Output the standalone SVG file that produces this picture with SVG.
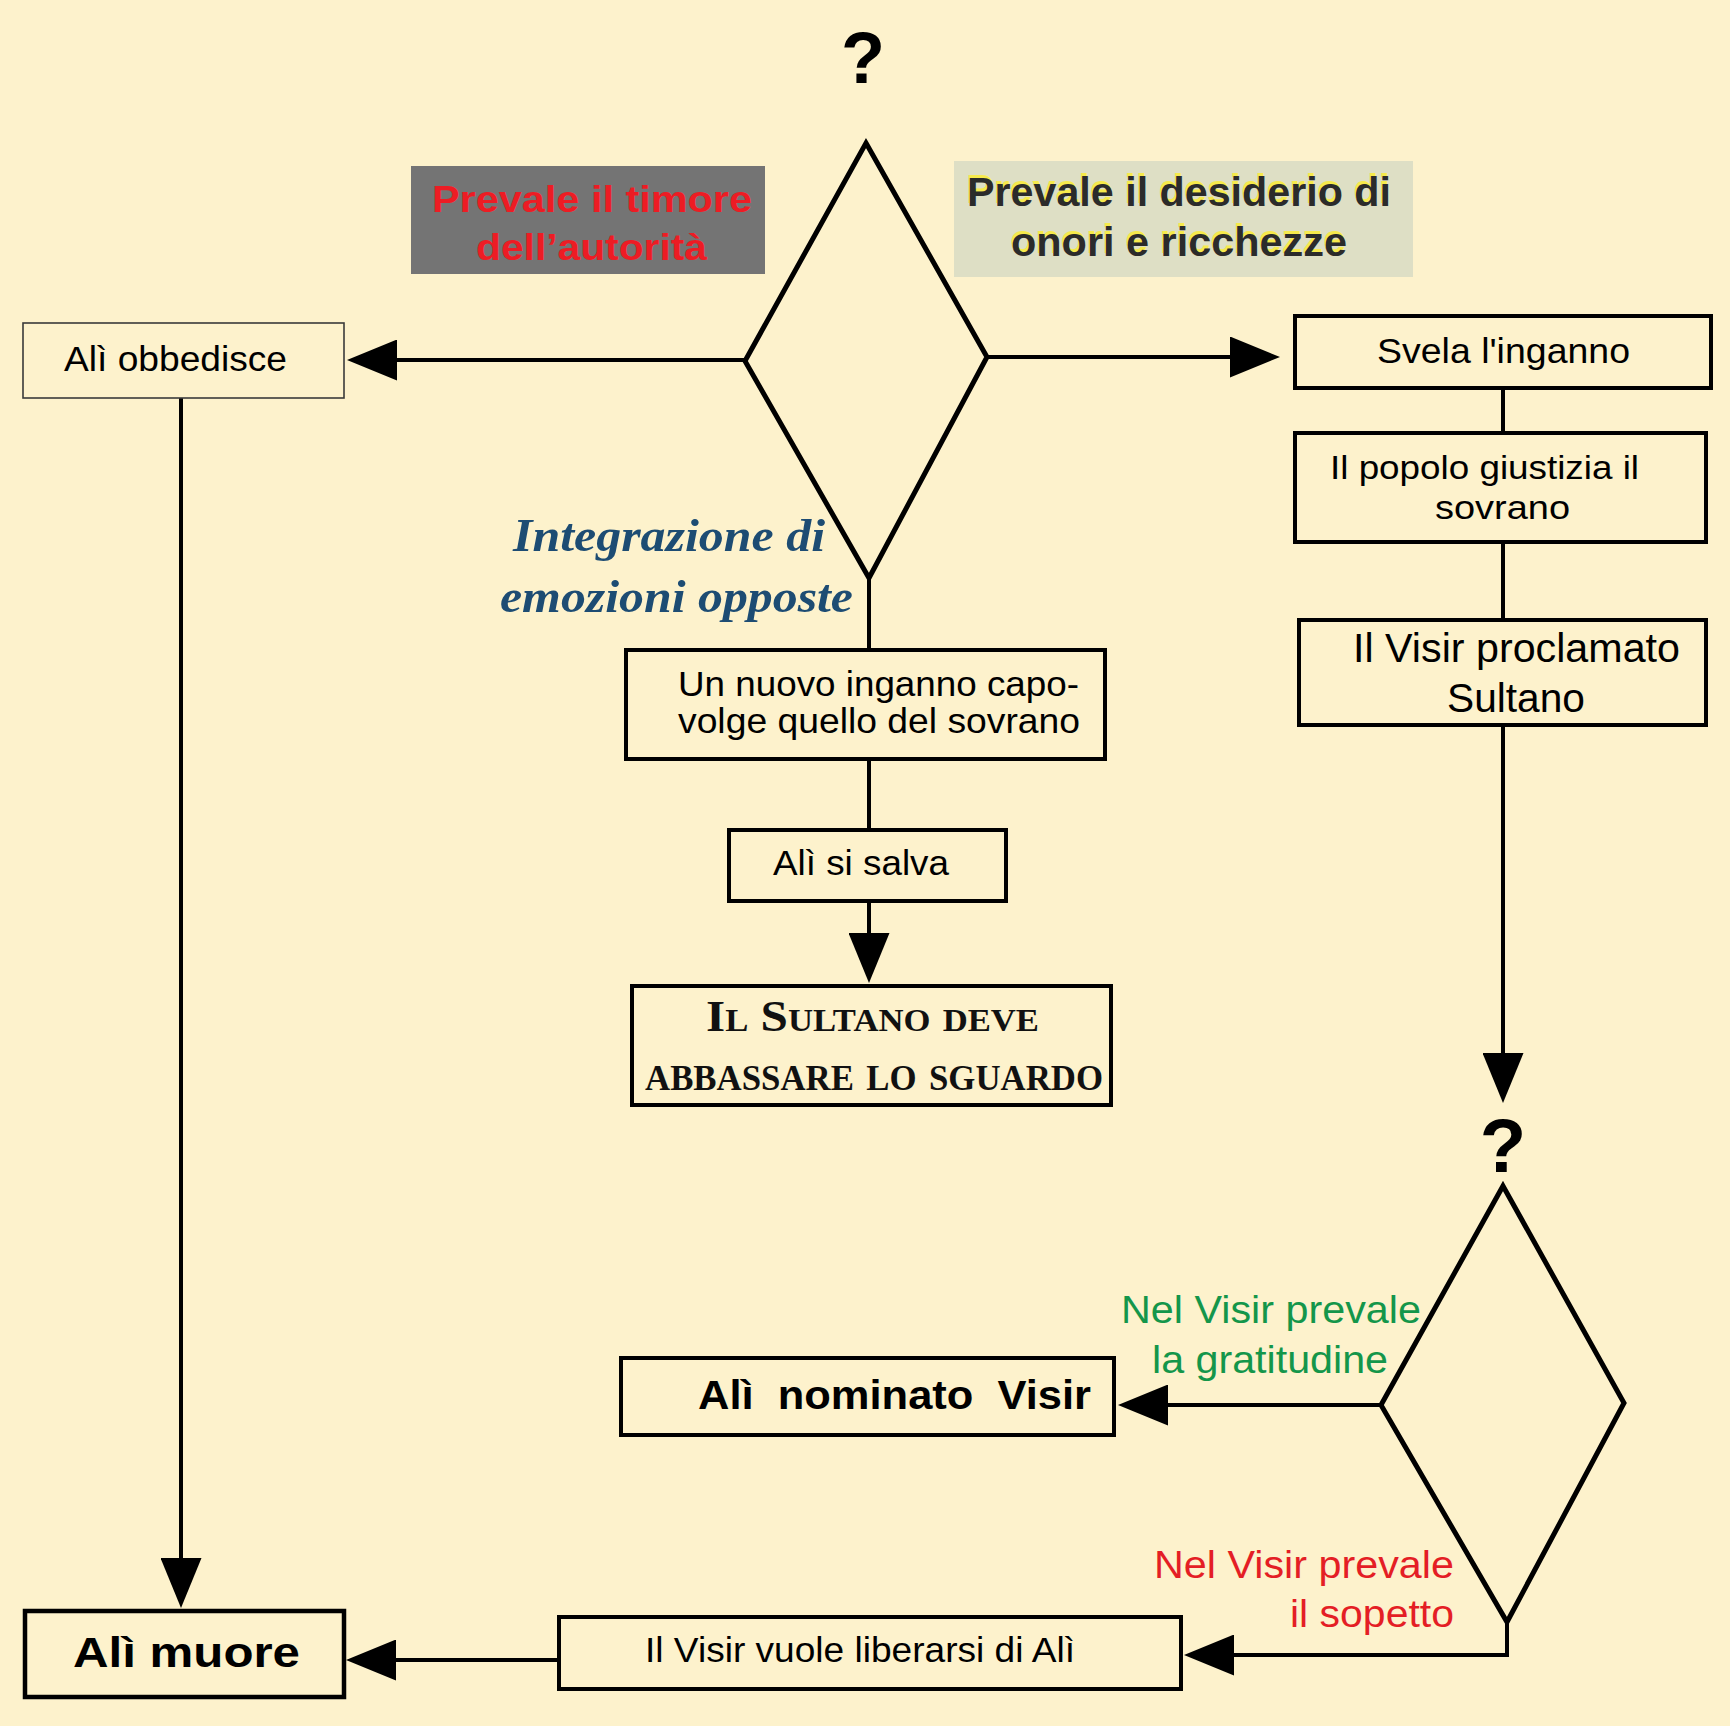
<svg xmlns="http://www.w3.org/2000/svg" width="1730" height="1726" viewBox="0 0 1730 1726">
<defs>
<marker id="ah" markerUnits="userSpaceOnUse" markerWidth="50" markerHeight="41" viewBox="0 0 50 41" refX="30" refY="20.5" orient="auto">
<path d="M0,0 L50,20.5 L0,41 Z" fill="#000"/>
</marker>
<style>
.box{fill:none;stroke:#000;stroke-width:4}
.thin{fill:none;stroke:#3a3a3a;stroke-width:1.6}
.dia{fill:none;stroke:#000;stroke-width:5;stroke-linejoin:miter}
.con{fill:none;stroke:#000;stroke-width:4}
.arr{marker-end:url(#ah)}
.sans{font-family:"Liberation Sans",Arial,Helvetica,sans-serif;fill:#000}
.b{font-weight:bold}
.serif{font-family:"Liberation Serif","Times New Roman",serif}
</style>
</defs>
<rect x="0" y="0" width="1730" height="1726" fill="#FDF2CC"/>

<g id="connectors">
<path class="con arr" d="M745,360 H367"/>
<path class="con arr" d="M987,357 H1260"/>
<path class="con arr" d="M181,398 V1588"/>
<path class="con" d="M869,578 V648"/>
<path class="con" d="M869,761 V828"/>
<path class="con arr" d="M869,903 V963"/>
<path class="con" d="M1503,390 V431"/>
<path class="con" d="M1503,544 V618"/>
<path class="con arr" d="M1503,727 V1083"/>
<path class="con arr" d="M1381,1405 H1138"/>
<path class="con arr" d="M1507,1622 V1655 H1204"/>
<path class="con arr" d="M557,1660 H366"/>
</g>

<g id="q1">
<text class="sans b" x="863" y="83" font-size="72" text-anchor="middle">?</text>
</g>
<g id="decision1">
<polygon class="dia" points="866,143 987,357 869,578 745,361"/>
</g>
<g id="label-timore">
<rect x="411" y="166" width="354" height="108" fill="#747474"/>
<text class="sans b" x="432" y="212" font-size="37" style="fill:#ED1C24" textLength="320" lengthAdjust="spacingAndGlyphs">Prevale il timore</text>
<text class="sans b" x="476" y="260" font-size="37" style="fill:#ED1C24" textLength="231" lengthAdjust="spacingAndGlyphs">dell’autorità</text>
</g>
<g id="label-desiderio">
<rect x="954" y="161" width="459" height="116" fill="#DEDFC5"/>
<text class="sans b" x="966" y="203" font-size="40" style="fill:#F6EA4C" textLength="424" lengthAdjust="spacingAndGlyphs">Prevale il desiderio di</text>
<text class="sans b" x="1010" y="253" font-size="40" style="fill:#F6EA4C" textLength="336" lengthAdjust="spacingAndGlyphs">onori e ricchezze</text>
<text class="sans b" x="967" y="206" font-size="40" style="fill:#2B2B2B" textLength="424" lengthAdjust="spacingAndGlyphs">Prevale il desiderio di</text>
<text class="sans b" x="1011" y="256" font-size="40" style="fill:#2B2B2B" textLength="336" lengthAdjust="spacingAndGlyphs">onori e ricchezze</text>
</g>
<g id="label-integrazione">
<text class="serif" x="513" y="551" font-size="47" font-weight="bold" font-style="italic" fill="#1D4C73" textLength="312" lengthAdjust="spacingAndGlyphs">Integrazione di</text>
<text class="serif" x="500" y="612" font-size="47" font-weight="bold" font-style="italic" fill="#1D4C73" textLength="353" lengthAdjust="spacingAndGlyphs">emozioni opposte</text>
</g>
<g id="n-obbedisce">
<rect class="thin" x="23" y="323" width="321" height="75"/>
<text class="sans" x="64" y="371" font-size="35" textLength="223" lengthAdjust="spacingAndGlyphs">Alì obbedisce</text>
</g>
<g id="n-svela">
<rect class="box" x="1295" y="316" width="416" height="72"/>
<text class="sans" x="1377" y="363" font-size="35" textLength="253" lengthAdjust="spacingAndGlyphs">Svela l'inganno</text>
</g>
<g id="n-popolo">
<rect class="box" x="1295" y="433" width="411" height="109"/>
<text class="sans" x="1330" y="479" font-size="34" textLength="309" lengthAdjust="spacingAndGlyphs">Il popolo giustizia il</text>
<text class="sans" x="1435" y="519" font-size="34" textLength="135" lengthAdjust="spacingAndGlyphs">sovrano</text>
</g>
<g id="n-proclamato">
<rect class="box" x="1299" y="620" width="407" height="105"/>
<text class="sans" x="1353" y="662" font-size="41" textLength="327" lengthAdjust="spacingAndGlyphs">Il Visir proclamato</text>
<text class="sans" x="1447" y="712" font-size="41" textLength="138" lengthAdjust="spacingAndGlyphs">Sultano</text>
</g>
<g id="n-nuovo">
<rect class="box" x="626" y="650" width="479" height="109"/>
<text class="sans" x="678" y="696" font-size="35" textLength="401" lengthAdjust="spacingAndGlyphs">Un nuovo inganno capo-</text>
<text class="sans" x="678" y="733" font-size="35" textLength="402" lengthAdjust="spacingAndGlyphs">volge quello del sovrano</text>
</g>
<g id="n-salva">
<rect class="box" x="729" y="830" width="277" height="71"/>
<text class="sans" x="773" y="875" font-size="35" textLength="176" lengthAdjust="spacingAndGlyphs">Alì si salva</text>
</g>
<g id="n-sultano">
<rect class="box" x="632" y="986" width="479" height="119"/>
<text class="serif" x="706" y="1031" font-size="44" font-weight="bold" font-variant="small-caps" fill="#111" textLength="333" lengthAdjust="spacingAndGlyphs">Il Sultano deve</text>
<text class="serif" x="645" y="1090" font-size="50" font-weight="bold" font-variant="small-caps" fill="#111" textLength="458" lengthAdjust="spacingAndGlyphs">abbassare lo sguardo</text>
</g>
<g id="q2">
<text class="sans b" x="1503" y="1172" font-size="76" text-anchor="middle">?</text>
</g>
<g id="decision2">
<polygon class="dia" points="1503,1186 1624,1403 1507,1622 1381,1405"/>
</g>
<g id="label-gratitudine">
<text class="sans" x="1121" y="1323" font-size="38" style="fill:#14964A" textLength="300" lengthAdjust="spacingAndGlyphs">Nel Visir prevale</text>
<text class="sans" x="1152" y="1373" font-size="38" style="fill:#14964A" textLength="236" lengthAdjust="spacingAndGlyphs">la gratitudine</text>
</g>
<g id="label-sospetto">
<text class="sans" x="1154" y="1578" font-size="38" style="fill:#E41E25" textLength="300" lengthAdjust="spacingAndGlyphs">Nel Visir prevale</text>
<text class="sans" x="1290" y="1627" font-size="38" style="fill:#E41E25" textLength="164" lengthAdjust="spacingAndGlyphs">il sopetto</text>
</g>
<g id="n-nominato">
<rect class="box" x="621" y="1358" width="493" height="77"/>
<text class="sans b" x="698" y="1409" font-size="40" xml:space="preserve" textLength="393" lengthAdjust="spacingAndGlyphs">Alì  nominato  Visir</text>
</g>
<g id="n-liberarsi">
<rect class="box" x="559" y="1617" width="622" height="72"/>
<text class="sans" x="645" y="1662" font-size="35" textLength="430" lengthAdjust="spacingAndGlyphs">Il Visir vuole liberarsi di Alì</text>
</g>
<g id="n-muore">
<rect class="box" x="25" y="1611" width="319" height="86" style="stroke-width:4.5"/>
<text class="sans b" x="73" y="1667" font-size="43" textLength="227" lengthAdjust="spacingAndGlyphs">Alì muore</text>
</g>
</svg>
